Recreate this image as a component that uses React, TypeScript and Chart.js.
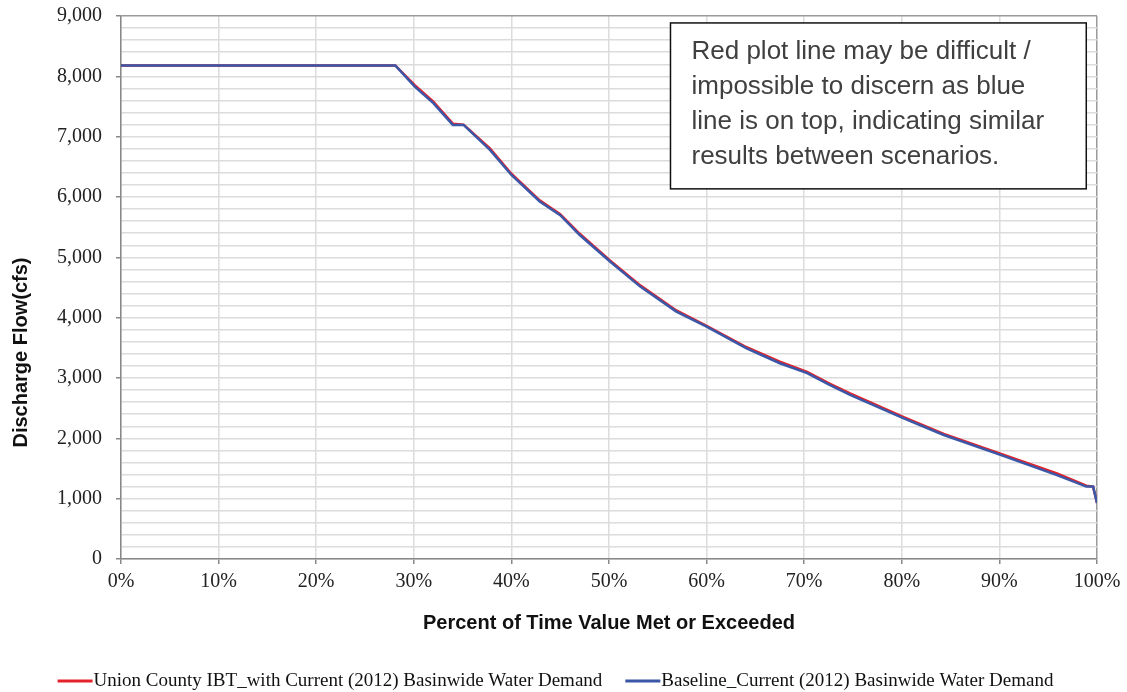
import React, { useEffect, useRef } from "react";
import { Chart, registerables } from "chart.js";

Chart.register(...registerables);

const percentTime = [0, 28.1, 30.1, 32.0, 34.0, 35.1, 37.8, 40.0, 42.9, 45.0, 47.0, 50.1, 53.2, 56.9, 60.0, 64.1, 67.5, 70.3, 72.6, 74.7, 80.2, 84.3, 90.1, 95.9, 98.9, 99.6, 100];
const baselineFlow = [8180, 8180, 7830, 7555, 7195, 7195, 6780, 6365, 5925, 5700, 5370, 4930, 4515, 4100, 3850, 3490, 3245, 3080, 2885, 2720, 2330, 2055, 1725, 1390, 1200, 1200, 930];
const unionFlow = [8180, 8180, 7855, 7580, 7215, 7200, 6805, 6385, 5945, 5715, 5390, 4950, 4535, 4120, 3865, 3510, 3270, 3100, 2905, 2745, 2350, 2075, 1745, 1420, 1215, 1200, 930];

const seriesLabels = [
  "Union County IBT_with Current (2012) Basinwide Water Demand",
  "Baseline_Current (2012) Basinwide Water Demand",
];
const seriesColors = ["#e3222b", "#3b57a8"];

const xTitle = "Percent of Time Value Met or Exceeded";
const yTitle = "Discharge Flow(cfs)";

const noteLines = [
  "Red plot line may be difficult /",
  "impossible to discern as blue",
  "line is on top, indicating similar",
  "results between scenarios.",
];
// note box extent in data units: [x from, x to], [y top, y bottom]
const noteBoxX = [56.3, 98.9];
const noteBoxY = [8885, 6135];

const SERIF = "'Liberation Serif', 'Times New Roman', serif";
const SANS = "'Liberation Sans', Arial, sans-serif";

const notePlugin = {
  id: "noteBox",
  afterDatasetsDraw(chart: any) {
    const { ctx, scales } = chart;
    const x0 = scales.x.getPixelForValue(noteBoxX[0]);
    const x1 = scales.x.getPixelForValue(noteBoxX[1]);
    const y0 = scales.y.getPixelForValue(noteBoxY[0]);
    const y1 = scales.y.getPixelForValue(noteBoxY[1]);
    ctx.save();
    ctx.fillStyle = "#ffffff";
    ctx.fillRect(x0, y0, x1 - x0, y1 - y0);
    ctx.strokeStyle = "#111111";
    ctx.lineWidth = 1.5;
    ctx.strokeRect(x0, y0, x1 - x0, y1 - y0);
    ctx.fillStyle = "#404040";
    ctx.font = `26px ${SANS}`;
    ctx.textBaseline = "middle";
    ctx.textAlign = "left";
    noteLines.forEach((t, i) => {
      ctx.fillText(t, x0 + 21, y0 + 29 + i * 35);
    });
    ctx.restore();
  },
};

const yTitlePlugin = {
  id: "yTitleOffset",
  afterDraw(chart: any) {
    const { ctx, chartArea } = chart;
    const cy = (chartArea.top + chartArea.bottom) / 2 + 65;
    ctx.save();
    ctx.translate(21, cy);
    ctx.rotate(-Math.PI / 2);
    ctx.fillStyle = "#111111";
    ctx.font = `bold 20px ${SANS}`;
    ctx.textAlign = "center";
    ctx.textBaseline = "middle";
    ctx.fillText(yTitle, 0, 0);
    ctx.restore();
  },
};

const legendPlugin = {
  id: "customLegend",
  afterDraw(chart: any) {
    const { ctx } = chart;
    const datasets = chart.data.datasets;
    const lineW = 35;
    const gap = 1;
    const itemGap = 23;
    ctx.save();
    ctx.font = `19px ${SERIF}`;
    const widths = datasets.map((d: any) => lineW + gap + ctx.measureText(d.label).width);
    const total = widths.reduce((a: number, b: number) => a + b, 0) + itemGap * (datasets.length - 1);
    let x = chart.width / 2 - 8 - total / 2;
    const y = chart.height - 11;
    datasets.forEach((d: any, i: number) => {
      ctx.strokeStyle = d.borderColor;
      ctx.lineWidth = 3;
      ctx.beginPath();
      ctx.moveTo(x, y);
      ctx.lineTo(x + lineW, y);
      ctx.stroke();
      ctx.fillStyle = "#111111";
      ctx.textBaseline = "middle";
      ctx.textAlign = "left";
      ctx.fillText(d.label, x + lineW + gap, y);
      x += widths[i] + itemGap;
    });
    ctx.restore();
  },
};

export default function App() {
  const canvasRef = useRef<HTMLCanvasElement | null>(null);

  useEffect(() => {
    if (!canvasRef.current) return;
    const chart = new Chart(canvasRef.current, {
      type: "line",
      data: {
        datasets: [
          {
            label: seriesLabels[0],
            data: percentTime.map((p, i) => ({ x: p, y: unionFlow[i] })),
            borderColor: seriesColors[0],
            backgroundColor: seriesColors[0],
            borderWidth: 2.5,
            pointRadius: 0,
            tension: 0,
            order: 1,
          },
          {
            label: seriesLabels[1],
            data: percentTime.map((p, i) => ({ x: p, y: baselineFlow[i] })),
            borderColor: seriesColors[1],
            backgroundColor: seriesColors[1],
            borderWidth: 2.5,
            pointRadius: 0,
            tension: 0,
            order: 0,
          },
        ],
      },
      options: {
        responsive: false,
        animation: false,
        devicePixelRatio: 1,
        layout: { padding: { left: 0, right: 30, top: 16, bottom: 53 } },
        plugins: {
          legend: { display: false },
          tooltip: { enabled: false },
        },
        scales: {
          x: {
            type: "linear",
            min: 0,
            max: 100,
            afterFit: (scale: any) => {
              scale.height = 80;
            },
            ticks: {
              stepSize: 10,
              padding: 6,
              color: "#222",
              font: { family: SERIF, size: 20 },
              callback: (v: any) => `${v}%`,
              maxRotation: 0,
            },
            grid: {
              color: (c: any) => (c.tick && c.tick.value === 100 ? "#9a9a9a" : "#dcdcdc"),
              lineWidth: 1.5,
              tickLength: 5,
              tickColor: "#888",
            },
            border: { color: "#888", width: 1.5 },
            title: {
              display: true,
              text: xTitle,
              color: "#111",
              font: { family: SANS, size: 20, weight: "bold" },
              padding: { top: 0, bottom: 4 },
            },
          },
          y: {
            type: "linear",
            min: 0,
            max: 9000,
            afterFit: (scale: any) => {
              scale.width = 121;
              scale.paddingTop = 0;
              scale.paddingBottom = 0;
            },
            ticks: {
              stepSize: 200,
              autoSkip: false,
              padding: 14,
              color: "#222",
              font: { family: SERIF, size: 20 },
              callback: (v: any) => (v % 1000 === 0 ? Number(v).toLocaleString("en-US") : ""),
            },
            grid: {
              color: (c: any) => (c.tick && c.tick.value === 9000 ? "#9a9a9a" : "#dcdcdc"),
              lineWidth: 1.5,
              tickLength: 5,
              tickColor: (c: any) => (c.tick && c.tick.value % 1000 === 0 ? "#888" : "rgba(0,0,0,0)"),
            },
            border: { color: "#888", width: 1.5 },
            title: { display: false, text: yTitle },
          },
        },
      },
      plugins: [notePlugin, yTitlePlugin, legendPlugin],
    } as any);
    return () => chart.destroy();
  }, []);

  return (
    <div style={{ position: "fixed", left: 0, top: 0, width: 1127, height: 692, background: "#fff" }}>
      <canvas ref={canvasRef} width={1127} height={692} style={{ width: 1127, height: 692, display: "block" }} />
    </div>
  );
}
